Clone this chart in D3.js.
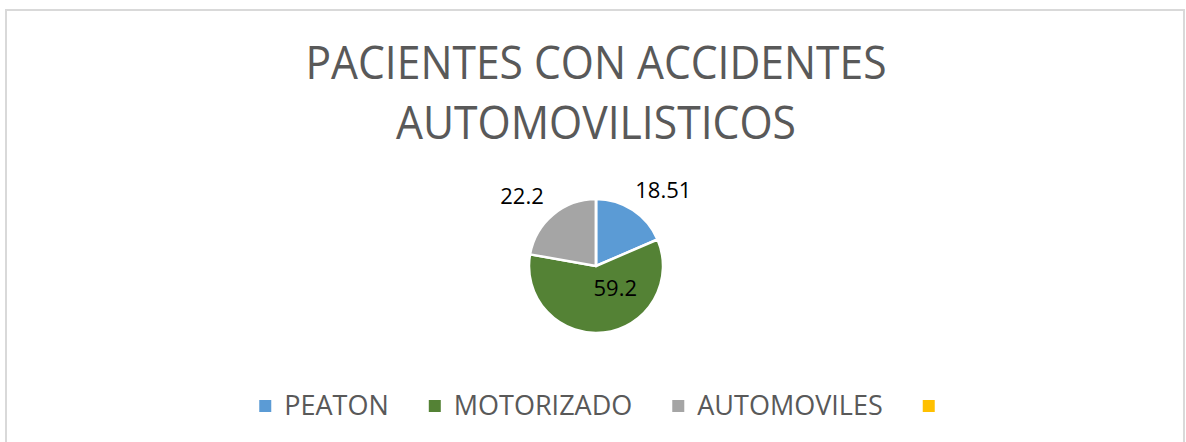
<!DOCTYPE html>
<html>
<head>
<meta charset="utf-8">
<script src="https://cdn.jsdelivr.net/npm/d3@7"></script>
<style>
  body { margin: 0; background: #fff; }
  text { font-family: "Open Sans", "Noto Sans", sans-serif; }
</style>
</head>
<body>
<div id="chartDiv"></div>
<script>
var width = 1186,
    height = 442;

// data
var categories = ["PEATON", "MOTORIZADO", "AUTOMOVILES", ""];
var values = [18.51, 59.2, 22.2, 0];
var labels = ["18.51", "59.2", "22.2", ""];
var labelPlace = ["outside", "inside", "outside", "none"];
var colors = ["#5B9BD5", "#548235", "#A5A5A5", "#FFC000"];
var titleLines = ["PACIENTES CON ACCIDENTES", "AUTOMOVILISTICOS"];

var svg = d3.select("#chartDiv")
    .append("svg")
    .attr("width", width)
    .attr("height", height);

// chart area border
svg.append("rect")
    .attr("x", 6)
    .attr("y", 10)
    .attr("width", 1178)
    .attr("height", 445)
    .attr("fill", "#fff")
    .attr("stroke", "#d9d9d9")
    .attr("stroke-width", 2);

// title, squeezed a bit since the original font is narrower
var titleWidths = [581, 400];
svg.append("g").selectAll("text")
    .data(titleLines)
    .enter().append("text")
    .attr("x", 596)
    .attr("y", function (d, i) { return 79 + i * 60; })
    .attr("text-anchor", "middle")
    .attr("font-size", 45)
    .attr("fill", "#595959")
    .text(function (d) { return d; })
    .each(function (d, i) {
        if (this.getComputedTextLength() > titleWidths[i]) {
            d3.select(this)
                .attr("textLength", titleWidths[i])
                .attr("lengthAdjust", "spacingAndGlyphs");
        }
    });

// pie
var cx = 596, cy = 266, r = 67;
var pie = d3.pie().sort(null).value(function (d) { return d; });
var arcs = pie(values);
var arc = d3.arc().innerRadius(0).outerRadius(r);

var g = svg.append("g").attr("transform", "translate(" + cx + "," + cy + ")");

g.selectAll("path")
    .data(arcs)
    .enter().append("path")
    .attr("d", arc)
    .attr("fill", function (d, i) { return colors[i]; })
    .attr("stroke", "#fff")
    .attr("stroke-width", 2.5)
    .attr("stroke-linejoin", "round");

// data labels
var outArc = d3.arc().innerRadius(r + 8).outerRadius(r + 8);
var inArc = d3.arc().innerRadius(0).outerRadius(r * 0.9);

g.selectAll("text.lbl")
    .data(arcs)
    .enter().append("text")
    .attr("class", "lbl")
    .filter(function (d, i) { return labelPlace[i] !== "none"; })
    .each(function (d, i) {
        var t = d3.select(this);
        var mid = (d.startAngle + d.endAngle) / 2;
        if (labelPlace[i] === "outside") {
            var p = outArc.centroid(d);
            var right = Math.sin(mid) >= 0;
            t.attr("x", right ? p[0] - 2 : p[0] - 4)
             .attr("y", p[1] - 5)
             .attr("text-anchor", right ? "start" : "end");
        } else {
            var q = inArc.centroid(d);
            t.attr("x", q[0] - 6)
             .attr("y", q[1])
             .attr("text-anchor", "start");
        }
    })
    .attr("font-size", 22)
    .attr("fill", "#000")
    .text(function (d, i) { return labels[i]; });

// legend
var legend = svg.append("g");
var items = legend.selectAll("g")
    .data(categories)
    .enter().append("g");

items.append("rect")
    .attr("width", 12)
    .attr("height", 12)
    .attr("y", 400)
    .attr("fill", function (d, i) { return colors[i]; });

items.append("text")
    .attr("x", 25)
    .attr("y", 415)
    .attr("font-size", 27)
    .attr("fill", "#595959")
    .text(function (d) { return d; });

var xPos = 0, offsets = [];
items.each(function (d, i) {
    offsets.push(xPos);
    var tw = d3.select(this).select("text").node().getComputedTextLength();
    xPos += d ? 25 + tw + 40 : 12;
});
var legendStart = 597 - xPos / 2;
items.attr("transform", function (d, i) {
    return "translate(" + (legendStart + offsets[i]) + ",0)";
});
</script>
</body>
</html>
